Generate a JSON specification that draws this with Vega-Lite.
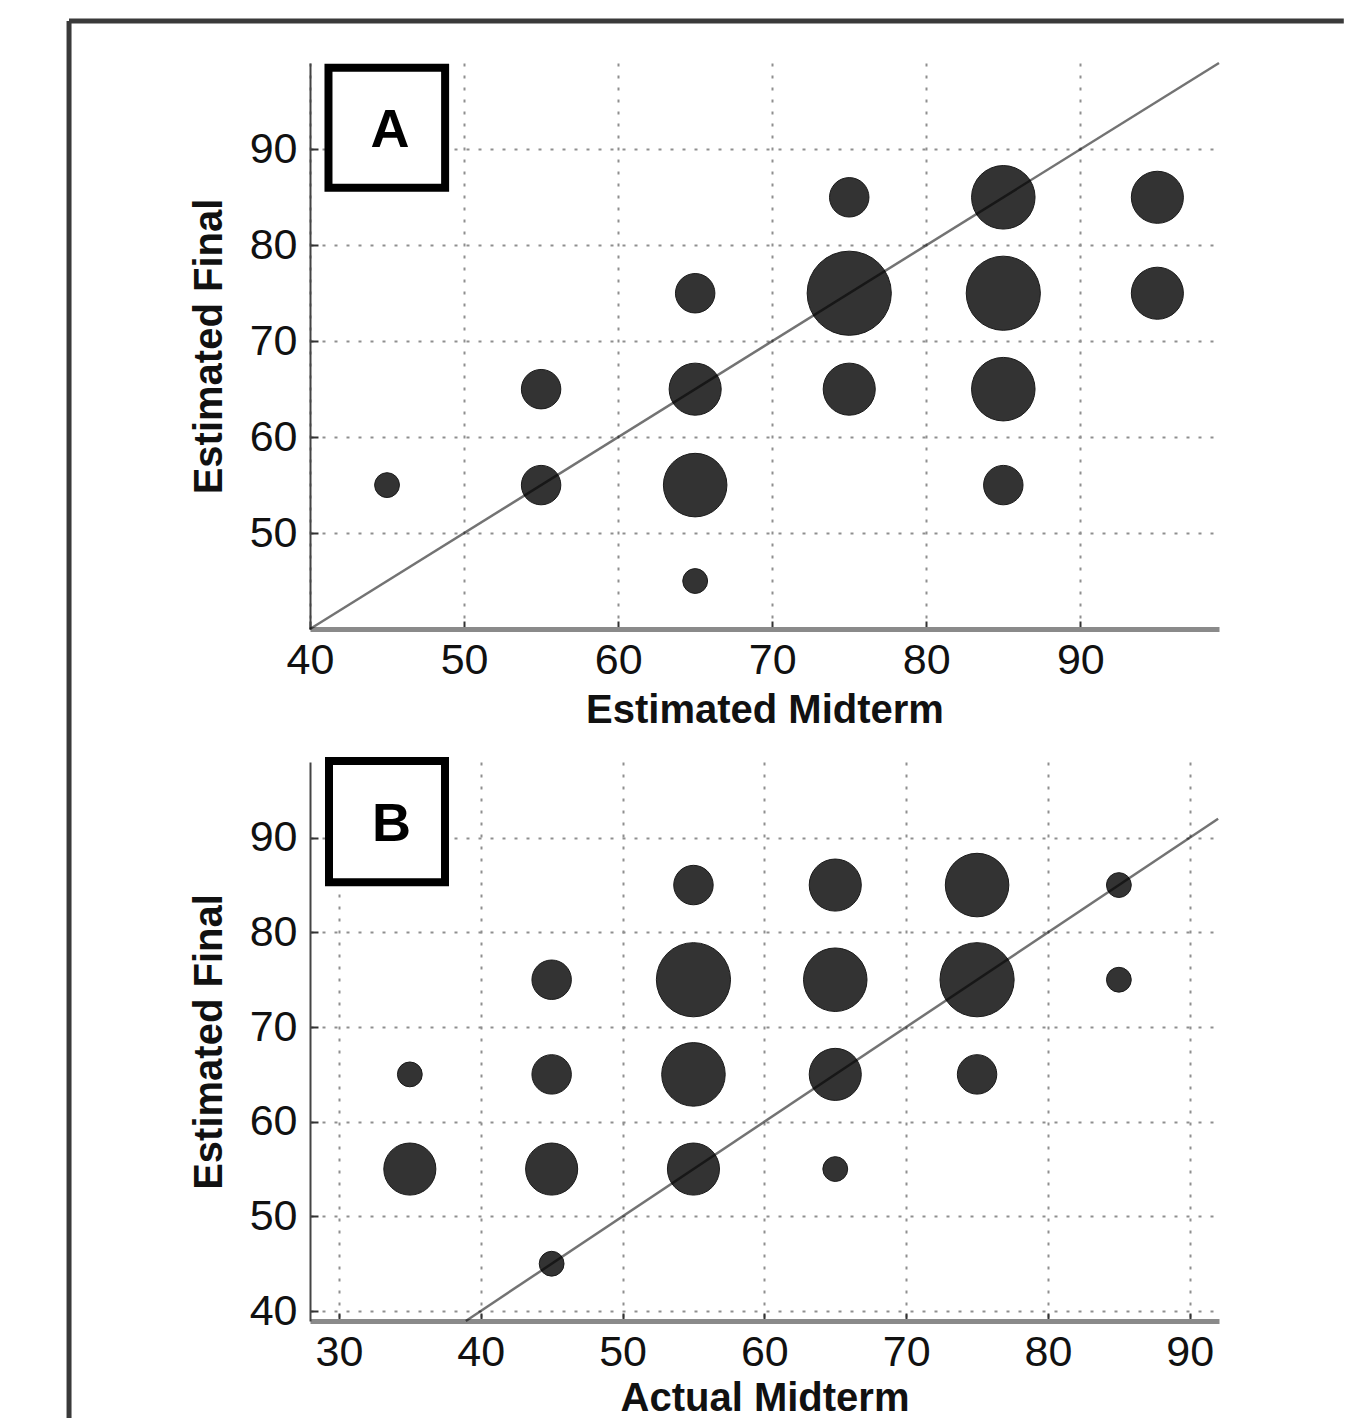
{
  "$schema": "https://vega.github.io/schema/vega-lite/v6.json",
  "background": "white",
  "padding": {"left": 66, "top": 18, "right": 0, "bottom": 0},
  "bounds": "flush",
  "spacing": 133,
  "config": {
    "view": {"stroke": null},
    "font": "Liberation Sans",
    "axis": {
      "grid": true,
      "gridColor": "#8f8f8f",
      "gridDash": [3, 9],
      "gridWidth": 2,
      "labelFont": "Liberation Sans",
      "labelFontSize": 43,
      "labelColor": "#111111",
      "labelFlush": false,
      "titleFont": "Liberation Sans",
      "titleFontSize": 40,
      "titleFontWeight": "bold",
      "titleColor": "#111111",
      "tickColor": "#333333",
      "tickWidth": 2,
      "tickSize": -8
    },
    "axisX": {"labelPadding": 18, "titlePadding": 8, "domainWidth": 5, "domainColor": "#8a8a8a"},
    "axisY": {"labelPadding": 21, "titlePadding": 20, "domainWidth": 2, "domainColor": "#444444"}
  },
  "vconcat": [
    {
      "width": 909,
      "height": 566,
      "layer": [
        {
          "data": {"values": [
            {"mid": 45, "fin": 55, "n": 1},
            {"mid": 55, "fin": 55, "n": 2},
            {"mid": 55, "fin": 65, "n": 2},
            {"mid": 65, "fin": 45, "n": 1},
            {"mid": 65, "fin": 55, "n": 4},
            {"mid": 65, "fin": 65, "n": 3},
            {"mid": 65, "fin": 75, "n": 2},
            {"mid": 75, "fin": 65, "n": 3},
            {"mid": 75, "fin": 75, "n": 6},
            {"mid": 75, "fin": 85, "n": 2},
            {"mid": 85, "fin": 55, "n": 2},
            {"mid": 85, "fin": 65, "n": 4},
            {"mid": 85, "fin": 75, "n": 5},
            {"mid": 85, "fin": 85, "n": 4},
            {"mid": 95, "fin": 75, "n": 3},
            {"mid": 95, "fin": 85, "n": 3}
          ]},
          "mark": {"type": "circle", "color": "#333333", "opacity": 1, "stroke": "#1a1a1a", "strokeWidth": 1},
          "encoding": {
            "x": {"field": "mid", "type": "quantitative", "scale": {"domain": [40, 99], "nice": false, "zero": false}, "axis": {"title": "Estimated Midterm", "values": [40, 50, 60, 70, 80, 90]}},
            "y": {"field": "fin", "type": "quantitative", "scale": {"domain": [40, 99], "nice": false, "zero": false}, "axis": {"title": "Estimated Final", "values": [50, 60, 70, 80, 90]}},
            "size": {"field": "n", "type": "quantitative", "scale": {"type": "pow", "exponent": 1.4, "domain": [1, 6], "range": [616, 7088]}, "legend": null}
          }
        },
        {
          "data": {"values": [{"mid": 40, "fin": 40}, {"mid": 99, "fin": 99}]},
          "mark": {"type": "line", "color": "black", "opacity": 0.55, "strokeWidth": 2.5},
          "encoding": {
            "x": {"field": "mid", "type": "quantitative"},
            "y": {"field": "fin", "type": "quantitative"}
          }
        },
        {
          "data": {"values": [{}]},
          "mark": {"type": "rect", "fill": "white", "stroke": "black", "strokeWidth": 8},
          "encoding": {
            "x": {"datum": 41.2, "type": "quantitative"},
            "x2": {"datum": 48.77},
            "y": {"datum": 98.5, "type": "quantitative"},
            "y2": {"datum": 86.0}
          }
        },
        {
          "data": {"values": [{"label": "A"}]},
          "mark": {"type": "text", "fontSize": 54, "fontWeight": "bold", "font": "Liberation Sans", "align": "center", "baseline": "alphabetic", "color": "black"},
          "encoding": {
            "x": {"datum": 45.2, "type": "quantitative"},
            "y": {"datum": 90.2, "type": "quantitative"},
            "text": {"field": "label"}
          }
        },
        {
          "data": {"values": [{}]},
          "mark": {"type": "rule", "color": "#3a3a3a", "strokeWidth": 5},
          "encoding": {
            "x": {"datum": 24.36, "type": "quantitative"},
            "y": {"datum": -42.25, "type": "quantitative"},
            "y2": {"datum": 103.38}
          }
        },
        {
          "data": {"values": [{}]},
          "mark": {"type": "rule", "color": "#3a3a3a", "strokeWidth": 5},
          "encoding": {
            "x": {"datum": 24.36, "type": "quantitative"},
            "x2": {"datum": 107.1},
            "y": {"datum": 103.38, "type": "quantitative"}
          }
        }
      ]
    },
    {
      "width": 909,
      "height": 559,
      "layer": [
        {
          "data": {"values": [
            {"mid": 35, "fin": 55, "n": 3},
            {"mid": 35, "fin": 65, "n": 1},
            {"mid": 45, "fin": 45, "n": 1},
            {"mid": 45, "fin": 55, "n": 3},
            {"mid": 45, "fin": 65, "n": 2},
            {"mid": 45, "fin": 75, "n": 2},
            {"mid": 55, "fin": 55, "n": 3},
            {"mid": 55, "fin": 65, "n": 4},
            {"mid": 55, "fin": 75, "n": 5},
            {"mid": 55, "fin": 85, "n": 2},
            {"mid": 65, "fin": 55, "n": 1},
            {"mid": 65, "fin": 65, "n": 3},
            {"mid": 65, "fin": 75, "n": 4},
            {"mid": 65, "fin": 85, "n": 3},
            {"mid": 75, "fin": 65, "n": 2},
            {"mid": 75, "fin": 75, "n": 5},
            {"mid": 75, "fin": 85, "n": 4},
            {"mid": 85, "fin": 75, "n": 1},
            {"mid": 85, "fin": 85, "n": 1}
          ]},
          "mark": {"type": "circle", "color": "#333333", "opacity": 1, "stroke": "#1a1a1a", "strokeWidth": 1},
          "encoding": {
            "x": {"field": "mid", "type": "quantitative", "scale": {"domain": [27.96, 92.06], "nice": false, "zero": false}, "axis": {"title": "Actual Midterm", "titlePadding": 4, "values": [30, 40, 50, 60, 70, 80, 90]}},
            "y": {"field": "fin", "type": "quantitative", "scale": {"domain": [38.95, 98], "nice": false, "zero": false}, "axis": {"title": "Estimated Final", "values": [40, 50, 60, 70, 80, 90]}},
            "size": {"field": "n", "type": "quantitative", "scale": {"type": "pow", "exponent": 1.4, "domain": [1, 6], "range": [616, 7088]}, "legend": null}
          }
        },
        {
          "data": {"values": [{"mid": 38.95, "fin": 38.95}, {"mid": 92, "fin": 92}]},
          "mark": {"type": "line", "color": "black", "opacity": 0.55, "strokeWidth": 2.5},
          "encoding": {
            "x": {"field": "mid", "type": "quantitative"},
            "y": {"field": "fin", "type": "quantitative"}
          }
        },
        {
          "data": {"values": [{}]},
          "mark": {"type": "rect", "fill": "white", "stroke": "black", "strokeWidth": 8},
          "encoding": {
            "x": {"datum": 29.3, "type": "quantitative"},
            "x2": {"datum": 37.48},
            "y": {"datum": 98.1, "type": "quantitative"},
            "y2": {"datum": 85.3}
          }
        },
        {
          "data": {"values": [{"label": "B"}]},
          "mark": {"type": "text", "fontSize": 54, "fontWeight": "bold", "font": "Liberation Sans", "align": "center", "baseline": "alphabetic", "color": "black"},
          "encoding": {
            "x": {"datum": 33.7, "type": "quantitative"},
            "y": {"datum": 89.7, "type": "quantitative"},
            "text": {"field": "label"}
          }
        }
      ]
    }
  ]
}
